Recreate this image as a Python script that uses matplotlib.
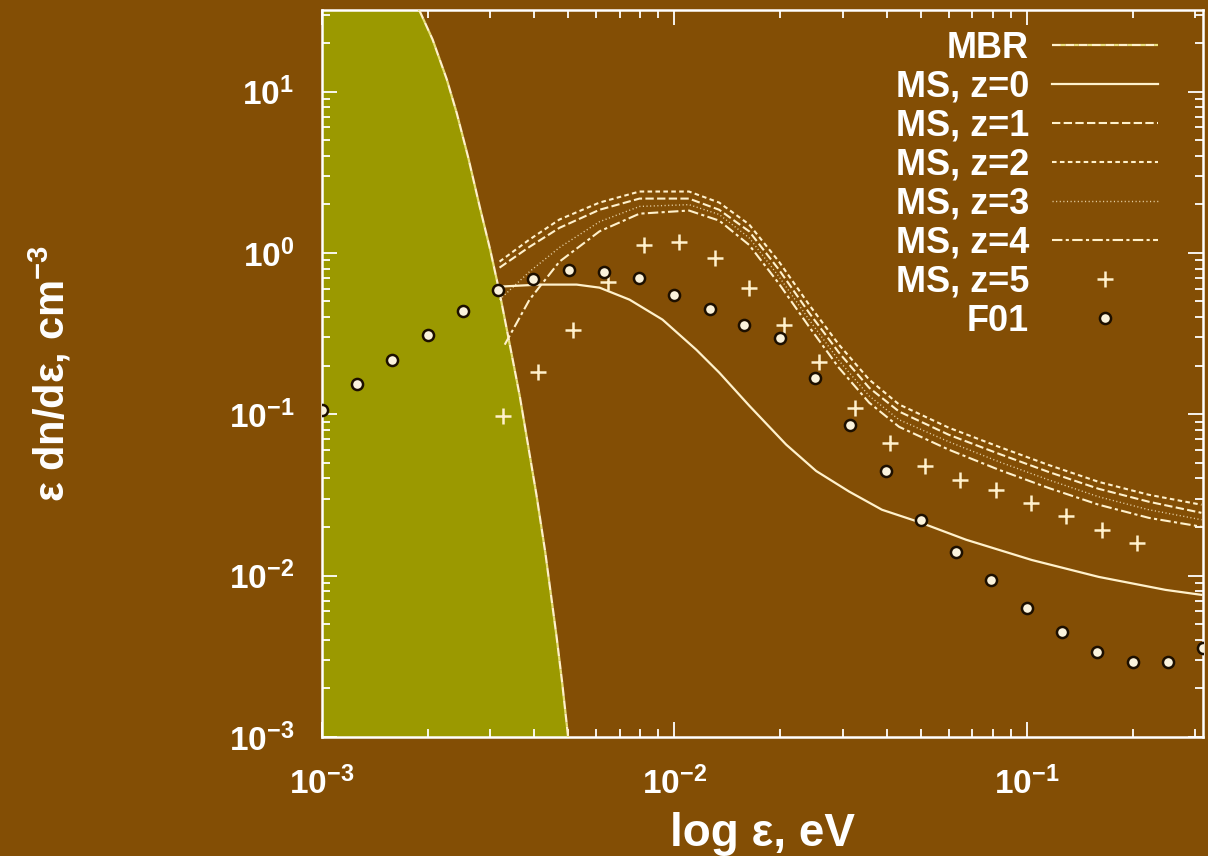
import numpy as np
import matplotlib
matplotlib.use("Agg")
import matplotlib.pyplot as plt
from matplotlib.ticker import LogLocator, FuncFormatter, NullFormatter

# ---------------- data ----------------
# MBR (microwave background) spectrum: boundary of the filled region
mbr_x = [1.0e-3, 1.5e-3, 1.9e-3, 2.06e-3, 2.26e-3, 2.41e-3, 2.6e-3, 2.8e-3, 3.0e-3,
         3.19e-3, 3.4e-3, 3.64e-3, 3.85e-3, 4.06e-3, 4.3e-3, 4.63e-3, 4.8e-3, 4.97e-3, 5.2e-3]
mbr_y = [190, 80, 31, 21, 11.9, 7.4, 3.9, 1.95, 1.05,
         0.57, 0.28, 0.13, 0.063, 0.0317, 0.014, 0.0042, 0.0022, 0.0011, 0.00042]

# MS, z=0 (solid)
z0_x = [3.19e-3, 4.15e-3, 5.28e-3, 6.13e-3, 7.46e-3, 9.25e-3, 1.154e-2, 1.341e-2, 1.631e-2,
        2.075e-2, 2.525e-2, 3.131e-2, 3.882e-2, 4.94e-2, 6.72e-2, 0.1033, 0.160, 0.2476, 0.313]
z0_y = [0.618, 0.636, 0.636, 0.609, 0.513, 0.386, 0.251, 0.181, 0.113,
        0.0649, 0.0445, 0.0332, 0.0256, 0.0215, 0.0167, 0.0125, 0.00982, 0.00816, 0.0076]

# common energy grid for z=1..3
ms_x = [3.19e-3, 3.88e-3, 4.72e-3, 6.13e-3, 7.96e-3, 1.10e-2, 1.34e-2, 1.63e-2, 1.98e-2,
        2.41e-2, 2.93e-2, 3.57e-2, 4.34e-2, 6.01e-2, 8.33e-2, 0.115, 0.160, 0.222, 0.313]
z2_y = [0.883, 1.21, 1.61, 2.05, 2.40, 2.40, 2.05, 1.50, 0.883,
        0.478, 0.270, 0.164, 0.115, 0.0825, 0.0629, 0.0486, 0.0381, 0.0317, 0.0275]
z1_y = [0.810, 1.09, 1.43, 1.85, 2.17, 2.17, 1.85, 1.36, 0.787,
        0.426, 0.241, 0.146, 0.104, 0.0746, 0.0569, 0.0440, 0.0345, 0.0287, 0.0245]
z3_y = [0.513, 0.765, 1.08, 1.56, 1.94, 1.99, 1.73, 1.24, 0.713,
        0.386, 0.215, 0.130, 0.0925, 0.0675, 0.0508, 0.0393, 0.0308, 0.0256, 0.0222]

# MS, z=4 (dash-dot)
z4_x = [3.30e-3, 3.88e-3, 4.72e-3, 6.13e-3, 7.96e-3, 1.10e-2, 1.34e-2, 1.63e-2, 1.98e-2,
        2.41e-2, 2.93e-2, 3.57e-2, 4.34e-2, 6.01e-2, 8.33e-2, 0.115, 0.160, 0.222, 0.313]
z4_y = [0.270, 0.513, 0.883, 1.36, 1.75, 1.83, 1.585, 1.12, 0.645,
        0.349, 0.194, 0.118, 0.0836, 0.0603, 0.0453, 0.0350, 0.0275, 0.0228, 0.0201]

# MS, z=5 (points)
z5_x = [3.26e-3, 4.10e-3, 5.16e-3, 6.50e-3, 8.18e-3, 1.03e-2, 1.30e-2, 1.63e-2, 2.05e-2,
        2.58e-2, 3.25e-2, 4.09e-2, 5.15e-2, 6.48e-2, 8.16e-2, 0.103, 0.129, 0.163, 0.205]
z5_y = [0.0979, 0.183, 0.334, 0.663, 1.12, 1.16, 0.935, 0.609, 0.359,
        0.212, 0.11, 0.0666, 0.0480, 0.0393, 0.0340, 0.0283, 0.0235, 0.0192, 0.0160]

# F01 (points)
f01_x = [0.001, 0.00126, 0.00158, 0.002, 0.00251, 0.00316, 0.00398, 0.00501, 0.00631,
         0.00794, 0.01, 0.0126, 0.0158, 0.02, 0.0251, 0.0316, 0.0398, 0.0501, 0.0631,
         0.0794, 0.1, 0.126, 0.158, 0.2, 0.251, 0.316]
f01_y = [0.107, 0.155, 0.218, 0.311, 0.438, 0.592, 0.692, 0.787, 0.765,
         0.703, 0.551, 0.451, 0.359, 0.298, 0.168, 0.0861, 0.0446, 0.0222, 0.0140,
         0.00941, 0.00631, 0.00448, 0.00337, 0.00292, 0.00292, 0.00356]

# ---------------- style ----------------
BG = "#834e05"
GREEN = "#9b9900"
LC = "#fff1cc"
WHITE = "#ffffff"

plt.rcParams.update({
    "font.family": ["Liberation Sans", "DejaVu Sans"],
    "font.weight": "bold",
    "mathtext.fontset": "custom",
    "mathtext.rm": "Liberation Sans:bold",
    "mathtext.it": "Liberation Sans:bold",
    "mathtext.bf": "Liberation Sans:bold",
    "mathtext.sf": "Liberation Sans:bold",
    "mathtext.default": "rm",
})

fig = plt.figure(figsize=(12.08, 8.56), dpi=100, facecolor=BG)
ax = fig.add_axes([322 / 1208, 1 - 737 / 856, 881 / 1208, 727 / 856])
ax.set_facecolor(BG)
ax.set_xscale("log")
ax.set_yscale("log")

ax.fill_between(mbr_x, mbr_y, 1e-6, color=GREEN, lw=0, zorder=1)
ax.plot(mbr_x, mbr_y, color=LC, lw=1.6, ls=(0, (4, 2)), gapcolor="#e9e27a",
        label="MBR", zorder=3)
ax.plot(z0_x, z0_y, color=LC, lw=1.6, ls="-", label="MS, z=0", zorder=3)
ax.plot(ms_x, z1_y, color=LC, lw=1.5, ls=(0, (4, 1.6)), label="MS, z=1", zorder=3)
ax.plot(ms_x, z2_y, color=LC, lw=1.5, ls=(0, (2.2, 1.6)), label="MS, z=2", zorder=3)
ax.plot(ms_x, z3_y, color=LC, lw=1.0, ls=(0, (0.8, 1.8)), alpha=0.8, label="MS, z=3", zorder=3)
ax.plot(z4_x, z4_y, color=LC, lw=1.5, ls=(0, (5, 1.6, 1.5, 1.6)), label="MS, z=4", zorder=3)
ax.plot(z5_x, z5_y, ls="none", marker="+", ms=11, mew=1.8, color=LC,
        label="MS, z=5", zorder=4)
ax.plot(f01_x, f01_y, ls="none", marker="o", ms=8, mew=1.8, mfc="#fbf3dc",
        mec="#1c0f00", label="F01", zorder=5)

ax.set_xlim(1e-3, 10 ** -0.5)
ax.set_ylim(1e-3, 32)

for s in ax.spines.values():
    s.set_color(WHITE)
    s.set_linewidth(1.8)

fmt = FuncFormatter(lambda v, _: r"$10^{%d}$" % int(round(np.log10(v))))
for axis in (ax.xaxis, ax.yaxis):
    axis.set_major_locator(LogLocator(base=10, numticks=10))
    axis.set_minor_locator(LogLocator(base=10, subs=np.arange(2, 10), numticks=20))
    axis.set_major_formatter(fmt)
    axis.set_minor_formatter(NullFormatter())

ax.tick_params(which="both", direction="in", top=True, right=True,
               color=WHITE, labelcolor=WHITE, width=1.3, labelsize=24)
ax.tick_params(which="major", length=11)
ax.tick_params(which="minor", length=6)
ax.tick_params(axis="x", which="major", pad=21)
ax.tick_params(axis="y", which="major", pad=20)

ax.set_xlabel("log ε, eV", fontsize=33, color=WHITE, fontweight="bold", va="center")
ax.xaxis.set_label_coords(0.5, (737 - 834) / 727)
ax.set_ylabel("ε dn/dε, cm$^{-3}$", fontsize=30, color=WHITE, fontweight="bold",
              va="center", ha="center")
ax.yaxis.set_label_coords((50 - 322) / 881, 0.5)

leg = ax.legend(loc="upper right", bbox_to_anchor=((1158 - 322) / 881, (737 - 31) / 727),
                borderaxespad=0, borderpad=0, markerfirst=False, frameon=False,
                fontsize=26, handlelength=2.93, handletextpad=0.64, labelspacing=0.11,
                numpoints=1, labelcolor=WHITE)

fig.savefig("out.png", dpi=100, facecolor=BG)
